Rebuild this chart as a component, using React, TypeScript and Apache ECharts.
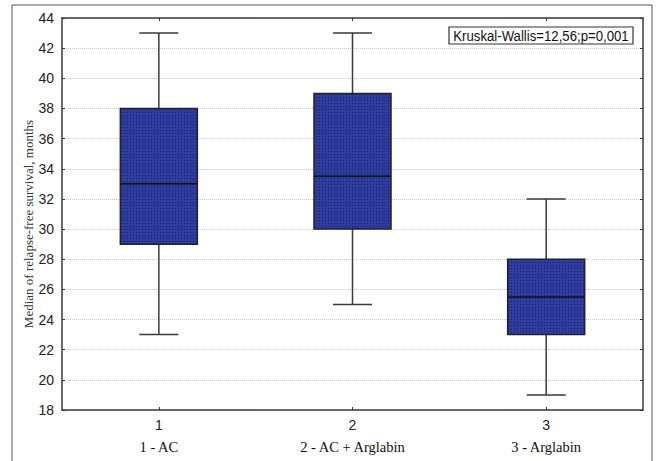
import React, { useEffect, useRef } from "react";
import * as echarts from "echarts";

const categories = ["1", "2", "3"];
const groupNames = ["1 - AC", "2 - AC + Arglabin", "3 - Arglabin"];
// [low whisker, Q1, median, Q3, high whisker]
const lowWhisker = [23, 25, 19];
const q1 = [29, 30, 23];
const median = [33, 33.5, 25.5];
const q3 = [38, 39, 28];
const highWhisker = [43, 43, 32];
const yTicksMin = 18;
const yTicksMax = 44;
const yTickStep = 2;
const statText = "Kruskal-Wallis=12,56;p=0,001";
const yTitle = "Median of relapse-free survival, months";

function makePattern(): any {
  const c = document.createElement("canvas");
  c.width = 3;
  c.height = 3;
  const ctx = c.getContext("2d");
  if (!ctx) return "#2b3793";
  ctx.fillStyle = "#2f3c9f";
  ctx.fillRect(0, 0, 3, 3);
  ctx.fillStyle = "#1b2261";
  ctx.fillRect(1, 1, 1, 1);
  return {
    type: "pattern",
    image: c,
    repeat: "repeat",
    imageWidth: 3,
    imageHeight: 3,
  };
}

export default function App() {
  const ref = useRef<HTMLDivElement>(null);
  useEffect(() => {
    if (!ref.current) return;
    const chart = echarts.init(ref.current, null, { renderer: "svg" });
    const fillPattern = makePattern();
    const data = categories.map((_, i) => [i, lowWhisker[i], q1[i], median[i], q3[i], highWhisker[i]]);
    const axisColor = "#3a3a3a";
    const option: any = {
      animation: false,
      backgroundColor: "#ffffff",
      grid: { left: 62, right: 19, top: 18, bottom: 51, containLabel: false },
      xAxis: [
        {
          type: "category",
          data: categories,
          boundaryGap: true,
          axisLine: { show: true, lineStyle: { color: axisColor, width: 1.5 } },
          axisTick: { show: true, inside: true, length: 3, alignWithLabel: true, lineStyle: { color: axisColor } },
          splitLine: { show: false },
          axisLabel: {
            margin: 4,
            formatter: (v: string, idx: number) => `{a|${v}}\n{b|${groupNames[idx]}}`,
            rich: {
              a: { fontFamily: "Liberation Sans, Arial, sans-serif", fontSize: 14, lineHeight: 22, color: "#222" },
              b: { fontFamily: "Liberation Serif, Times New Roman, serif", fontSize: 14.5, lineHeight: 22, color: "#111" },
            },
          },
        },
        {
          type: "category",
          data: categories,
          position: "top",
          boundaryGap: true,
          axisLine: { show: true, lineStyle: { color: axisColor, width: 1.5 } },
          axisTick: { show: true, inside: true, length: 3, alignWithLabel: true, lineStyle: { color: axisColor } },
          axisLabel: { show: false },
          splitLine: { show: false },
        },
      ],
      yAxis: [
        {
          type: "value",
          min: yTicksMin,
          max: yTicksMax,
          interval: yTickStep,
          axisLine: { show: true, lineStyle: { color: axisColor, width: 1.5 } },
          axisTick: { show: true, inside: true, length: 3, lineStyle: { color: axisColor } },
          axisLabel: {
            margin: 8,
            fontFamily: "Liberation Sans, Arial, sans-serif",
            fontSize: 14,
            color: "#222",
          },
          splitLine: { show: true, lineStyle: { color: "#c8c8c8", type: [1, 1], width: 1 } },
        },
        {
          type: "value",
          position: "right",
          min: yTicksMin,
          max: yTicksMax,
          interval: yTickStep,
          axisLine: { show: true, lineStyle: { color: axisColor, width: 1.5 } },
          axisTick: { show: true, inside: true, length: 3, lineStyle: { color: axisColor } },
          axisLabel: { show: false },
          splitLine: { show: false },
        },
      ],
      graphic: [
        {
          type: "rect",
          silent: true,
          shape: { x: 12, y: 5, width: 640, height: 480 },
          style: { fill: "none", stroke: "#555", lineWidth: 1 },
        },
        {
          type: "text",
          x: 28,
          y: 224,
          rotation: Math.PI / 2,
          style: {
            text: yTitle,
            fontFamily: "Liberation Serif, Times New Roman, serif",
            fontSize: 13,
            fill: "#333",
            align: "center",
            verticalAlign: "middle",
          },
        },
        {
          type: "rect",
          shape: { x: 449, y: 27, width: 184, height: 17 },
          style: { fill: "#fff", stroke: "#333", lineWidth: 1.2 },
          z: 10,
        },
        {
          type: "text",
          x: 541,
          y: 36,
          z: 11,
          scaleX: 0.88,
          style: {
            text: statText,
            fontFamily: "Liberation Sans, Arial, sans-serif",
            fontSize: 15,
            fill: "#111",
            align: "center",
            verticalAlign: "middle",
          },
        },
      ],
      series: [
        {
          type: "custom",
          xAxisIndex: 0,
          yAxisIndex: 0,
          data,
          encode: { x: 0, y: [1, 2, 3, 4, 5] },
          renderItem: (params: any, api: any) => {
            const xi = api.value(0);
            const pLow = api.coord([xi, api.value(1)]);
            const pQ1 = api.coord([xi, api.value(2)]);
            const pMed = api.coord([xi, api.value(3)]);
            const pQ3 = api.coord([xi, api.value(4)]);
            const pHigh = api.coord([xi, api.value(5)]);
            const cx = pLow[0];
            const boxW = 77;
            const capW = 39;
            const lineStyle = { stroke: "#3a3a3a", lineWidth: 1.5 };
            return {
              type: "group",
              children: [
                { type: "line", shape: { x1: cx, y1: pHigh[1], x2: cx, y2: pLow[1] }, style: lineStyle },
                { type: "line", shape: { x1: cx - capW / 2, y1: pHigh[1], x2: cx + capW / 2, y2: pHigh[1] }, style: lineStyle },
                { type: "line", shape: { x1: cx - capW / 2, y1: pLow[1], x2: cx + capW / 2, y2: pLow[1] }, style: lineStyle },
                {
                  type: "rect",
                  shape: { x: cx - boxW / 2, y: pQ3[1], width: boxW, height: pQ1[1] - pQ3[1] },
                  style: { fill: fillPattern, stroke: "#222", lineWidth: 1.5 },
                },
                {
                  type: "line",
                  shape: { x1: cx - boxW / 2, y1: pMed[1], x2: cx + boxW / 2, y2: pMed[1] },
                  style: { stroke: "#111", lineWidth: 1.5 },
                },
              ],
            };
          },
        },
      ],
    };
    chart.setOption(option);
    return () => chart.dispose();
  }, []);
  return <div ref={ref} style={{ position: "absolute", left: 0, top: 0, width: 662, height: 461 }} />;
}
